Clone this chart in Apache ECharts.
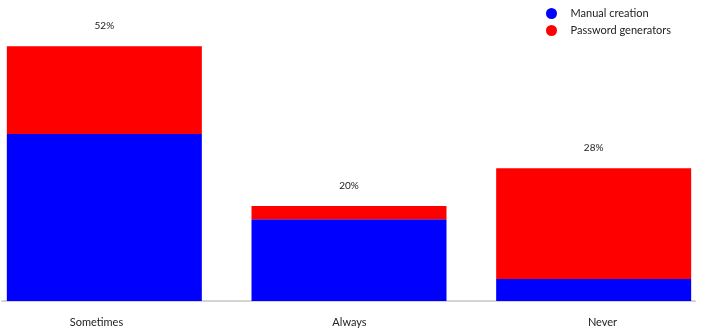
<!DOCTYPE html>
<html><head><meta charset="utf-8">
<script src="https://cdn.jsdelivr.net/npm/echarts@6/dist/echarts.min.js"></script>
<style>html,body{margin:0;padding:0;background:#fff}#c{width:708px;height:328px}</style>
</head><body><div id="c"></div>
<script>
const categories = ['Sometimes', 'Always', 'Never'];
const manualCreation = [34.1, 16.7, 4.5];
const passwordGenerators = [17.9, 2.7, 22.6];
const totalLabels = ['52%', '20%', '28%'];
const seriesNames = ['Manual creation', 'Password generators'];

const FONT = 'Lato';
const chart = echarts.init(document.getElementById('c'), null, {renderer: 'canvas'});
chart.setOption({
  animation: false,
  backgroundColor: '#ffffff',
  textStyle: {fontFamily: FONT},
  legend: {
    orient: 'vertical', left: 541, top: 2,
    icon: 'circle', itemWidth: 28, itemHeight: 11, itemGap: 4,
    data: seriesNames,
    textStyle: {fontFamily: FONT, fontSize: 11, color: '#222', lineHeight: 13}
  },
  grid: [
    {left: -18, right: -8, top: 7, bottom: 27, outerBoundsMode: 'none', containLabel: false},
    {left: -30, right: -21, top: 7, bottom: 27, outerBoundsMode: 'none', containLabel: false},
    {left: 2, right: 13, top: 7, bottom: 27, outerBoundsMode: 'none', containLabel: false}
  ],
  xAxis: [
    {type: 'category', gridIndex: 0, data: categories, axisLine: {show: false}, axisTick: {show: false}, axisLabel: {show: false}},
    {type: 'category', gridIndex: 1, data: categories, axisLine: {show: false}, axisTick: {show: false},
     axisLabel: {margin: 16, fontFamily: FONT, fontSize: 11, color: '#222'}},
    {type: 'category', gridIndex: 2, data: categories, axisLine: {show: true, lineStyle: {color: '#d4d4d4', width: 2}}, axisTick: {show: false}, axisLabel: {show: false}}
  ],
  yAxis: [
    {type: 'value', gridIndex: 0, min: 0, max: 60, show: false},
    {type: 'value', gridIndex: 1, min: 0, max: 60, show: false},
    {type: 'value', gridIndex: 2, min: 0, max: 60, show: false}
  ],
  series: [
    {name: seriesNames[0], type: 'bar', stack: 'total', xAxisIndex: 0, yAxisIndex: 0,
     barWidth: 195, data: manualCreation, itemStyle: {color: '#0000ff'}},
    {name: seriesNames[1], type: 'bar', stack: 'total', xAxisIndex: 0, yAxisIndex: 0,
     barWidth: 195, data: passwordGenerators, itemStyle: {color: '#ff0000'},
     label: {show: true, position: 'top', distance: 15, fontFamily: FONT, fontSize: 10, color: '#222',
       formatter: p => totalLabels[p.dataIndex]}}
  ]
});
</script></body></html>
